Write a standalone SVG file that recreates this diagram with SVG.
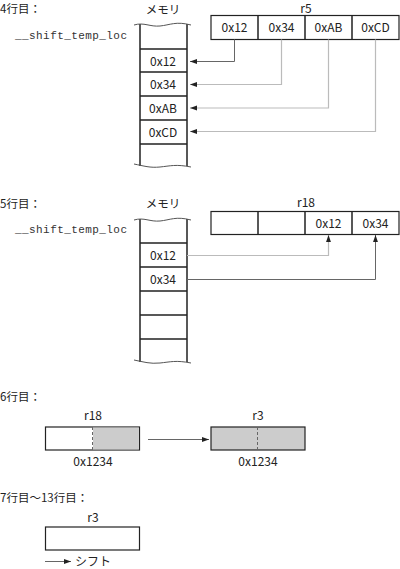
<svg xmlns="http://www.w3.org/2000/svg" width="400" height="569" viewBox="0 0 400 569">
<style>
text{font-family:"Noto Sans CJK JP","Liberation Sans",sans-serif;font-size:12px;fill:#222}
.m{text-anchor:middle}
.h{font-size:11.5px}
.mono{font-family:"Liberation Mono",monospace;font-size:11px;fill:#333}
.box{fill:#fff;stroke:#222;stroke-width:1.2}
.g{fill:#ccc}
.wall{fill:none;stroke:#222;stroke-width:1.5}
.wave{fill:none;stroke:#555;stroke-width:1}
.dk{fill:none;stroke:#666;stroke-width:1}
.lt{fill:none;stroke:#bbb;stroke-width:1.2}
.dash{stroke:#666;stroke-width:1;stroke-dasharray:3,2}
</style>
<defs>
<marker id="ah" viewBox="0 0 10 10" refX="10" refY="5" markerWidth="7" markerHeight="7" markerUnits="userSpaceOnUse" orient="auto"><path d="M0,1.5L10,5L0,8.5z" fill="#222"/></marker>
</defs>

<g id="sec4">
<text class="h" x="0" y="13">4行目：</text>
<text class="mono" x="15" y="39" textLength="112">__shift_temp_loc</text>
<g id="mem4">
<text class="m h" x="163" y="14">メモリ</text>
<path class="wall" d="M140,24V166M187,24V166"/>
<path class="wave" d="M134,25C144,22 150,27 160,26S176,21 191,25"/>
<path class="wave" d="M134,164C144,166 150,168 160,167S176,164 191,167"/>
<path class="wall" d="M140,49H187M140,72H187M140,96H187M140,120H187M140,144H187" stroke-width="1.2"/>
<text class="m" x="163" y="65.5">0x12</text>
<text class="m" x="163" y="89">0x34</text>
<text class="m" x="163" y="112.5">0xAB</text>
<text class="m" x="163" y="136.5">0xCD</text>
</g>
<g id="r5">
<text class="m" x="306" y="12.5">r5</text>
<rect class="box" x="211" y="15.5" width="188" height="24"/>
<path class="wall" d="M258,15.5V39.5M305,15.5V39.5M352,15.5V39.5" stroke-width="1.2"/>
<text class="m" x="234.5" y="32">0x12</text>
<text class="m" x="281.5" y="32">0x34</text>
<text class="m" x="328.5" y="32">0xAB</text>
<text class="m" x="375.5" y="32">0xCD</text>
</g>
</g>

<g id="sec5">
<text class="h" x="0" y="208">5行目：</text>
<text class="mono" x="15" y="233" textLength="112">__shift_temp_loc</text>
<g id="mem5">
<text class="m h" x="163" y="208">メモリ</text>
<path class="wall" d="M140,219V362M187,219V362"/>
<path class="wave" d="M134,220C144,217 150,222 160,221S176,216 191,220"/>
<path class="wave" d="M134,360C144,362 150,364 160,363S176,360 191,363"/>
<path class="wall" d="M140,243H187M140,267H187M140,291H187M140,315H187M140,339H187" stroke-width="1.2"/>
<text class="m" x="163" y="260">0x12</text>
<text class="m" x="163" y="283.5">0x34</text>
</g>
<g id="r18a">
<text class="m" x="306" y="207">r18</text>
<rect class="box" x="211" y="211.5" width="188" height="23"/>
<path class="wall" d="M258,211.5V234.5M305,211.5V234.5M352,211.5V234.5" stroke-width="1.2"/>
<text class="m" x="328.5" y="227.5">0x12</text>
<text class="m" x="375.5" y="227.5">0x34</text>
</g>
</g>

<g id="sec6">
<text class="h" x="0" y="401">6行目：</text>
<g id="r18b">
<text class="m" x="93" y="420">r18</text>
<rect class="box" x="45.5" y="427" width="94" height="23"/>
<rect class="g" x="93" y="427.6" width="45.9" height="21.8"/>
<line class="dash" x1="92.5" y1="427" x2="92.5" y2="450"/>
<text class="m" x="93" y="465.5">0x1234</text>
</g>
<g id="r3a">
<text class="m" x="258" y="420">r3</text>
<rect class="box" x="211" y="427" width="94" height="23" style="fill:#ccc"/>
<line class="dash" x1="257.5" y1="427" x2="257.5" y2="450"/>
<text class="m" x="258" y="465.5">0x1234</text>
</g>
</g>

<g id="sec7">
<text class="h" x="0" y="502">7行目〜13行目：</text>
<g id="r3b">
<text class="m" x="93" y="522">r3</text>
<rect class="box" x="45.5" y="527" width="94" height="23"/>
</g>
<text x="75" y="566">シフト</text>
</g>

<g id="connectors">
<path class="dk" d="M234.5,39.5V61.5H190" marker-end="url(#ah)"/>
<path class="lt" d="M281.5,39.5V84.5H190" marker-end="url(#ah)"/>
<path class="lt" d="M328.5,39.5V108H190" marker-end="url(#ah)"/>
<path class="lt" d="M375.5,39.5V131.5H190" marker-end="url(#ah)"/>
<path class="lt" d="M187,255.5H328.5V235" marker-end="url(#ah)"/>
<path class="dk" d="M187,279.5H375.5V235" marker-end="url(#ah)"/>
<path class="dk" d="M148,439.5H209" marker-end="url(#ah)"/>
<path class="dk" d="M45,561.5H71" marker-end="url(#ah)"/>
</g>
</svg>
